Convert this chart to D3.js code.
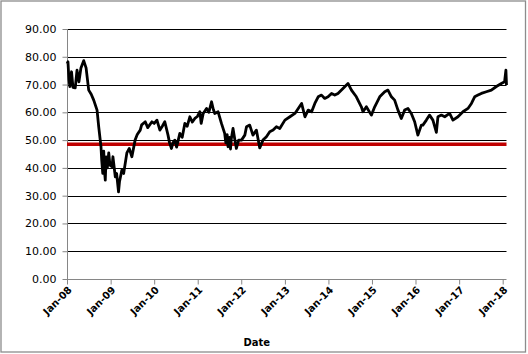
<!DOCTYPE html>
<html>
<head>
<meta charset="utf-8">
<script src="https://cdn.jsdelivr.net/npm/d3@7"></script>
<style>
    body { margin: 0; background: #fff; }
    svg { display: block; }
</style>
</head>
<body>
<svg width="528" height="354"></svg>
<script>
// price series
const dates = [
    "2008-01-02", "2008-01-09", "2008-01-17", "2008-01-25", "2008-02-08", "2008-02-20",
    "2008-03-10", "2008-03-25", "2008-04-10", "2008-04-27", "2008-05-20", "2008-06-09",
    "2008-07-01", "2008-07-22", "2008-08-12", "2008-09-09", "2008-09-23", "2008-10-12",
    "2008-10-18", "2008-10-27", "2008-11-04", "2008-11-10", "2008-11-17", "2008-11-24",
    "2008-12-04", "2008-12-16", "2008-12-26",
    "2009-01-12", "2009-01-20", "2009-02-09", "2009-02-20", "2009-03-08", "2009-03-16",
    "2009-04-05", "2009-04-20", "2009-05-17", "2009-06-06", "2009-06-28", "2009-07-25",
    "2009-08-12", "2009-09-06", "2009-09-18", "2009-10-18", "2009-11-08", "2009-12-13",
    "2010-01-01", "2010-01-24", "2010-02-18", "2010-03-10", "2010-03-31", "2010-04-27",
    "2010-05-10", "2010-05-26", "2010-06-07", "2010-06-23", "2010-07-08", "2010-08-04",
    "2010-08-24", "2010-09-15", "2010-10-05", "2010-10-27", "2010-11-17", "2010-12-08",
    "2010-12-29", "2011-01-19", "2011-01-30", "2011-02-16", "2011-03-16", "2011-04-04",
    "2011-04-27", "2011-05-12", "2011-05-24", "2011-06-21", "2011-07-19", "2011-08-15",
    "2011-08-25", "2011-09-05", "2011-09-12", "2011-09-26", "2011-10-03", "2011-10-10",
    "2011-10-24", "2011-11-07", "2011-11-21", "2011-12-10", "2012-01-03",
    "2012-01-31", "2012-02-14", "2012-03-12", "2012-04-08", "2012-05-07", "2012-06-04",
    "2012-07-01", "2012-07-30", "2012-08-27", "2012-09-24", "2012-10-22", "2012-11-19",
    "2013-01-01", "2013-02-12", "2013-03-26", "2013-04-23", "2013-05-21", "2013-06-18",
    "2013-07-15", "2013-08-13", "2013-09-09", "2013-10-07", "2013-11-04", "2013-12-01",
    "2013-12-29", "2014-01-27", "2014-02-23", "2014-03-22", "2014-05-03", "2014-06-14",
    "2014-07-13", "2014-08-23", "2014-10-04", "2014-10-18", "2014-11-15", "2014-12-27",
    "2015-01-24", "2015-03-07", "2015-04-18", "2015-05-15", "2015-06-13", "2015-07-10",
    "2015-08-07", "2015-09-04", "2015-10-02", "2015-10-30", "2015-11-27", "2015-12-25",
    "2016-01-21", "2016-02-19", "2016-03-03", "2016-04-01", "2016-04-28", "2016-05-26",
    "2016-06-24", "2016-07-07", "2016-08-05", "2016-09-02", "2016-10-13", "2016-11-10",
    "2016-12-22", "2017-02-02", "2017-03-16", "2017-04-14", "2017-05-11", "2017-06-08",
    "2017-07-06", "2017-08-17", "2017-09-28", "2017-11-09", "2017-12-21", "2018-01-17",
    "2018-01-28", "2018-02-02"
];

const prices = [
    77.5, 78.2, 72.0, 69.3, 74.6, 69.0,
    68.8, 75.2, 71.0, 76.0, 78.6, 76.0,
    68.0, 66.5, 64.4, 60.8, 54.8, 47.6,
    42.8, 38.0, 46.0, 39.0, 35.6, 44.0,
    40.0, 45.4, 41.0,
    40.4, 44.0, 36.8, 38.0, 31.4, 35.0,
    39.2, 38.0, 45.4, 47.0, 44.0, 50.0,
    52.0, 53.6, 55.5, 56.6, 54.5, 56.6,
    56.0, 57.2, 53.6, 55.0, 56.6, 51.8,
    49.0, 47.0, 49.0, 50.0, 47.5, 52.4,
    51.0, 56.0, 55.0, 58.4, 56.5, 57.8,
    58.5, 60.2, 56.0, 59.6, 61.4, 60.0,
    63.8, 61.0, 59.6, 60.2, 56.0, 52.4,
    49.0, 52.0, 47.6, 51.0, 46.8, 50.6,
    54.2, 50.5, 47.0, 50.0, 50.0,
    51.8, 54.8, 55.4, 51.8, 53.6, 47.2,
    50.0, 51.2, 53.0, 53.6, 54.8, 54.2,
    57.2, 58.4, 59.6, 61.4, 63.2, 58.4,
    60.8, 60.2, 63.2, 65.6, 66.2, 65.0,
    65.6, 66.8, 66.2, 66.8, 68.6, 70.4,
    68.0, 65.6, 62.0, 60.2, 62.0, 59.0,
    62.0, 65.6, 67.4, 68.0, 65.6, 64.4,
    60.8, 57.8, 60.8, 61.4, 59.6, 56.6,
    51.8, 55.4, 55.4, 57.2, 59.0, 57.2,
    52.8, 58.4, 59.0, 58.4, 59.6, 57.2,
    58.4, 60.2, 61.4, 63.2, 65.6, 66.2,
    66.8, 67.4, 68.0, 69.3, 70.4, 71.0,
    75.2, 69.8
];

const redLevel = 48.5;
const yTicks = [0, 10, 20, 30, 40, 50, 60, 70, 80, 90];
const xStart = "2008-01-01";

const attr = {
    left: 67,
    right: 506.5,
    top: 29,
    bottom: 279
};

const parse = d3.timeParse("%Y-%m-%d");
const data = dates.map((d, i) => ({ date: parse(d), value: prices[i] }));

const svg = d3.select("svg");

// chart frame
svg.append("rect")
    .attr("x", 1)
    .attr("y", 1)
    .attr("width", 524.5)
    .attr("height", 351)
    .attr("fill", "#fff")
    .attr("stroke", "#8c8c8c")
    .attr("stroke-width", 1.3);

const scX = d3.scaleTime()
    .domain([parse(xStart), data[data.length - 1].date])
    .range([attr.left, attr.right]);

const scY = d3.scaleLinear()
    .domain([0, 90])
    .range([attr.bottom, attr.top]);

// gridlines
svg.append("g")
    .selectAll("line")
    .data(yTicks.filter(d => d > 0))
    .enter()
    .append("line")
    .attr("x1", attr.left)
    .attr("x2", attr.right)
    .attr("y1", d => Math.round(scY(d)) + 0.5)
    .attr("y2", d => Math.round(scY(d)) + 0.5)
    .attr("stroke", "#000")
    .attr("stroke-width", 1);

// y axis
const yAxis = svg.append("g")
    .attr("transform", `translate(${attr.left + 0.5},0)`)
    .call(d3.axisLeft(scY)
        .tickValues(yTicks)
        .tickFormat(d3.format(".2f"))
        .tickSize(5)
        .tickPadding(6));

yAxis.select(".domain")
    .attr("stroke", "#868686")
    .attr("d", `M0,${attr.bottom}V${attr.top}`);
yAxis.selectAll(".tick line").attr("stroke", "#868686");
yAxis.selectAll("text")
    .attr("fill", "#000")
    .style("font-family", "DejaVu Sans")
    .style("font-size", "11px");

// x axis
const xAxis = svg.append("g")
    .attr("transform", `translate(0,${attr.bottom + 0.5})`)
    .call(d3.axisBottom(scX)
        .ticks(d3.timeYear.every(1))
        .tickFormat(d3.timeFormat("%b-%y"))
        .tickSize(5));

xAxis.select(".domain")
    .attr("stroke", "#868686")
    .attr("d", `M${attr.left},0H${attr.right}`);
xAxis.selectAll(".tick line").attr("stroke", "#868686");
xAxis.selectAll("text")
    .attr("fill", "#000")
    .style("font-family", "DejaVu Sans")
    .style("font-size", "10px")
    .style("font-weight", "bold")
    .style("text-anchor", "end")
    .attr("x", 0)
    .attr("y", 0)
    .attr("dy", 0)
    .attr("transform", "translate(5,11) rotate(-45)");

svg.append("text")
    .attr("x", (attr.left + attr.right) / 2 - 30)
    .attr("y", 346)
    .attr("text-anchor", "middle")
    .style("font-family", "DejaVu Sans")
    .style("font-size", "10px")
    .style("font-weight", "bold")
    .text("Date");

// red level line
svg.append("line")
    .attr("x1", attr.left)
    .attr("x2", attr.right)
    .attr("y1", scY(redLevel))
    .attr("y2", scY(redLevel))
    .attr("stroke", "#c00000")
    .attr("stroke-width", 3.5);

// price line
const line = d3.line()
    .x(d => scX(d.date))
    .y(d => scY(d.value));

svg.append("path")
    .datum(data)
    .attr("fill", "none")
    .attr("stroke", "#000")
    .attr("stroke-width", 2.8)
    .attr("stroke-linejoin", "round")
    .attr("d", line);
</script>
</body>
</html>
